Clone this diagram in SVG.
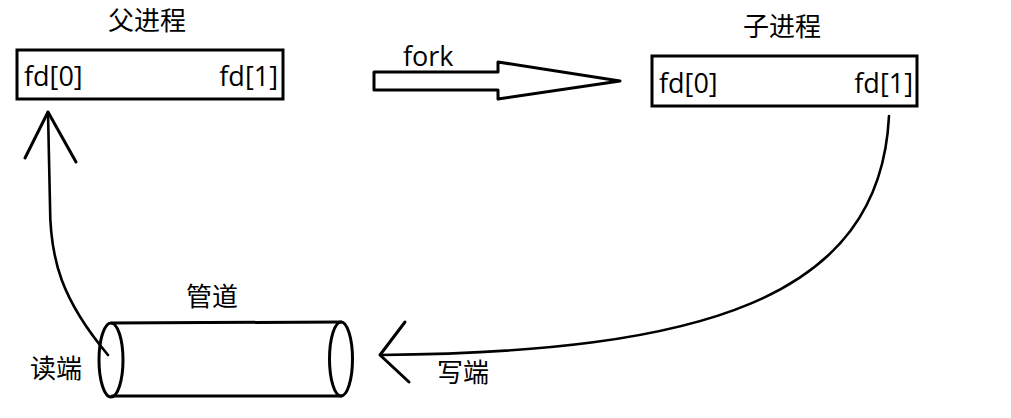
<svg xmlns="http://www.w3.org/2000/svg" width="1011" height="418" viewBox="0 0 1011 418">
<style>
.box{fill:#fff;stroke:#000;stroke-width:3}
.ln{fill:none;stroke:#000;stroke-width:3;stroke-linecap:round;stroke-linejoin:round}
.cv{fill:none;stroke:#000;stroke-width:2.6;stroke-linecap:round}
.lat{font-family:"Open Sans","Noto Sans",sans-serif;font-size:27px;fill:#000}
.cjk{font-family:"Noto Sans CJK SC","Noto Sans",sans-serif;font-size:26px;fill:#000}
</style>
<rect width="1011" height="418" fill="#fff"/>
<g id="parent">
<text class="cjk" x="147" y="30" text-anchor="middle">父进程</text>
<rect class="box" x="17" y="50" width="266" height="49"/>
<text class="lat" x="24" y="86">fd[0]</text>
<text class="lat" x="278" y="86" text-anchor="end">fd[1]</text>
</g>
<g id="child">
<text class="cjk" x="782" y="36" text-anchor="middle">子进程</text>
<rect class="box" x="652" y="56" width="265" height="50"/>
<text class="lat" x="659" y="93">fd[0]</text>
<text class="lat" x="913" y="93" text-anchor="end">fd[1]</text>
</g>
<g id="pipe">
<text class="cjk" x="212" y="306" text-anchor="middle">管道</text>
<line class="ln" x1="112" y1="323" x2="341" y2="322"/>
<line class="ln" x1="112" y1="396" x2="341" y2="396"/>
<ellipse class="ln" cx="111" cy="360" rx="12" ry="37" fill="#fff"/>
<ellipse class="ln" cx="341" cy="359" rx="11.5" ry="37"/>
<text class="cjk" x="56" y="378" text-anchor="middle">读端</text>
<text class="cjk" x="463" y="382" text-anchor="middle">写端</text>
</g>
<g id="connectors">
<g id="fork">
<polygon class="ln" points="374,72 498,72 498,62 620,81 498,99 498,90 374,90"/>
<text class="lat" x="403" y="66">fork</text>
</g>
<path class="cv" d="M48,112 L50,205 C50,260 62,300 108,355"/>
<polyline class="ln" points="25,158 48,112 76,162"/>
<path class="cv" d="M889,116 C880,300 700,352 380,355"/>
<polyline class="ln" points="405,322 380,355 409,382"/>
</g>
</svg>
